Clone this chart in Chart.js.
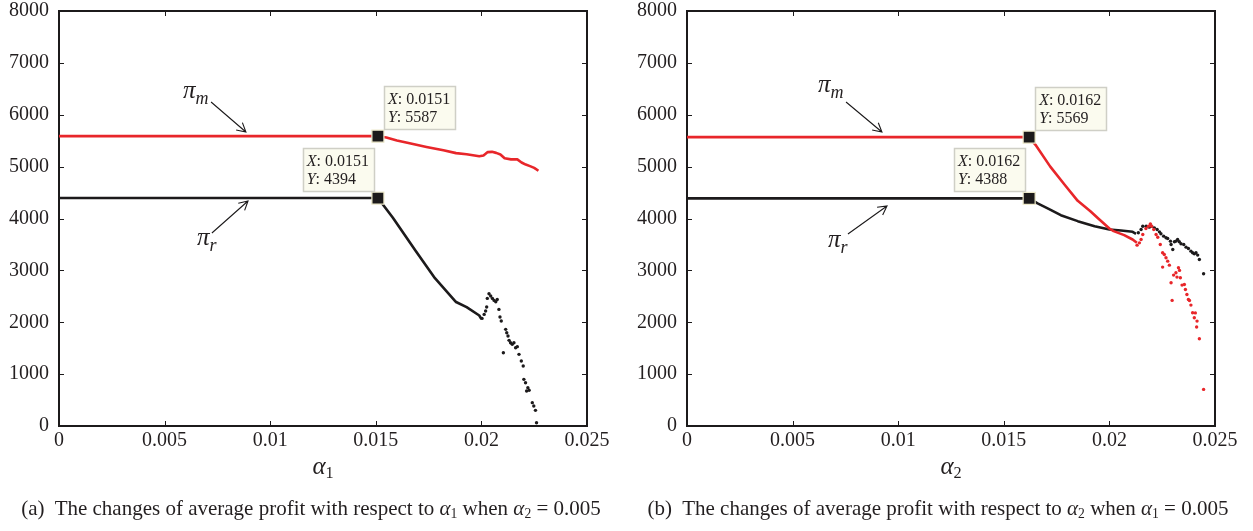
<!DOCTYPE html>
<html>
<head>
<meta charset="utf-8">
<script src="https://cdn.jsdelivr.net/npm/chart.js@4.4.1/dist/chart.umd.min.js"></script>
<style>
  body { margin: 0; background: #fff; width: 1253px; height: 531px; position: relative; overflow: hidden;
         font-family: "Liberation Serif", serif; color: #231f20; }
  .panel { position: absolute; top: 0; width: 625px; height: 531px; }
  #panelA { left: 0; }
  #panelB { left: 628px; }
  .axt { position: absolute; top: 452px; font-size: 25px; transform: translateX(-50%); white-space: nowrap; }
  .cap { position: absolute; top: 496px; font-size: 21px; transform: translateX(-50%); white-space: nowrap; }
  sub { font-size: 65%; font-style: normal; vertical-align: -0.25em; }
  i { font-style: italic; }
</style>
</head>
<body>
<div class="panel" id="panelA"><canvas id="chartA" width="625" height="531"></canvas></div>
<div class="panel" id="panelB"><canvas id="chartB" width="625" height="531"></canvas></div>
<div class="axt" style="left:323px"><i>α</i><sub>1</sub></div>
<div class="axt" style="left:951px"><i>α</i><sub>2</sub></div>
<div class="cap" style="left:311px">(a)&nbsp; The changes of average profit with respect to <i>α</i><sub>1</sub> when <i>α</i><sub>2</sub> = 0.005</div>
<div class="cap" style="left:938px">(b)&nbsp; The changes of average profit with respect to <i>α</i><sub>2</sub> when <i>α</i><sub>1</sub> = 0.005</div>
<script>
// axes
var xTicks = [0, 0.005, 0.01, 0.015, 0.02, 0.025];
var xTickLabels = ['0', '0.005', '0.01', '0.015', '0.02', '0.025'];
var yTicks = [0, 1000, 2000, 3000, 4000, 5000, 6000, 7000, 8000];

// (a) profit vs alpha1, alpha2 = 0.005
var aMarkX = [0.0151, 0.0151];
var aMarkY = [5587, 4394];
var aPiMX = [0, 0.0151, 0.0155, 0.0160, 0.0166, 0.0174, 0.0182, 0.0188, 0.0193, 0.0199, 0.0201, 0.0203, 0.0205, 0.0207, 0.0209, 0.0211, 0.0214, 0.0217, 0.0219, 0.0221, 0.0223, 0.0225, 0.0227];
var aPiMY = [5587, 5587, 5560, 5505, 5450, 5380, 5315, 5260, 5240, 5200, 5215, 5280, 5285, 5265, 5235, 5160, 5140, 5140, 5080, 5040, 5010, 4975, 4920];
var aPiRX = [0, 0.0151, 0.0158, 0.0169, 0.0178, 0.0188, 0.0193, 0.0199, 0.0200];
var aPiRY = [4394, 4394, 4020, 3370, 2850, 2390, 2290, 2130, 2060];
var aPiRDotX = [0.02003, 0.02013, 0.0202, 0.02025, 0.02028, 0.02036, 0.02044, 0.02052, 0.0206, 0.02068, 0.02075, 0.02083, 0.02088, 0.02094, 0.02104, 0.02115, 0.0212, 0.02126, 0.02131, 0.02138, 0.02146, 0.02154, 0.02162, 0.0217, 0.02178, 0.02189, 0.02198, 0.02201, 0.02209, 0.02214, 0.0222, 0.02226, 0.02241, 0.02248, 0.02256, 0.02261];
var aPiRDotY = [2074, 2151, 2216, 2293, 2460, 2550, 2505, 2460, 2421, 2396, 2440, 2248, 2100, 2023, 1413, 1863, 1798, 1734, 1651, 1606, 1574, 1606, 1509, 1530, 1381, 1252, 1156, 899, 835, 674, 739, 690, 450, 385, 302, 64];

// (b) profit vs alpha2, alpha1 = 0.005
var bMarkX = [0.0162, 0.0162];
var bMarkY = [5569, 4388];
var bPiMX = [0, 0.0162, 0.0165, 0.0172, 0.0179, 0.0185, 0.0191, 0.0195, 0.0200, 0.0202, 0.0207, 0.0211, 0.0213];
var bPiMY = [5569, 5569, 5420, 5000, 4640, 4340, 4141, 3990, 3807, 3756, 3679, 3595, 3531];
var bPiMDotX = [0.02131, 0.02142, 0.0215, 0.02158, 0.02173, 0.02185, 0.02194, 0.022, 0.0221, 0.02221, 0.02229, 0.02241, 0.02252, 0.0226, 0.02268, 0.02252, 0.02276, 0.02284, 0.02292, 0.02297, 0.02304, 0.02315, 0.0232, 0.02327, 0.02332, 0.02336, 0.02344, 0.02355, 0.0236, 0.02367, 0.02374, 0.02379, 0.02386, 0.02394, 0.02402, 0.02407, 0.02415, 0.02413, 0.02426, 0.02446];
var bPiMDotY = [3486, 3531, 3595, 3692, 3807, 3852, 3897, 3852, 3788, 3692, 3640, 3499, 3339, 3307, 3242, 3063, 3178, 3101, 2761, 2421, 2909, 2953, 2870, 3050, 3000, 2857, 2716, 2729, 2632, 2536, 2440, 2420, 2331, 2183, 2087, 2180, 2022, 1907, 1682, 706];
var bPiRX = [0, 0.0162, 0.0166, 0.0171, 0.0177, 0.0185, 0.0193, 0.0200, 0.02055, 0.0211, 0.02126];
var bPiRY = [4388, 4388, 4290, 4190, 4064, 3949, 3852, 3788, 3769, 3743, 3705];
var bPiRDotX = [0.02137, 0.0215, 0.02158, 0.02174, 0.02189, 0.022, 0.02213, 0.02226, 0.02237, 0.02244, 0.02257, 0.02268, 0.02276, 0.02289, 0.02292, 0.023, 0.02308, 0.02315, 0.02323, 0.02331, 0.02339, 0.02352, 0.02363, 0.02374, 0.02386, 0.02394, 0.02402, 0.0241, 0.02418, 0.02426, 0.02446];
var bPiRDotY = [3724, 3788, 3852, 3852, 3833, 3852, 3820, 3788, 3743, 3705, 3660, 3628, 3615, 3563, 3499, 3403, 3551, 3563, 3596, 3551, 3512, 3499, 3448, 3422, 3371, 3339, 3319, 3339, 3294, 3210, 2934];

var RED = '#e8262a';
var INK = '#1c1a1b';
var SERIF = '"Liberation Serif", serif';

function pts(xs, ys) {
  var out = [];
  for (var i = 0; i < xs.length; i++) out.push({ x: xs[i], y: ys[i] });
  return out;
}

// box with inward ticks on all four sides
var framePlugin = {
  id: 'frame',
  beforeDatasetsDraw: function (chart) {
    var c = chart.ctx, a = chart.chartArea, sx = chart.scales.x, sy = chart.scales.y;
    var t = 5;
    c.save();
    c.strokeStyle = INK;
    c.lineWidth = 1;
    c.beginPath();
    xTicks.forEach(function (v) {
      var p = Math.round(sx.getPixelForValue(v)) + 0.5;
      c.moveTo(p, a.bottom); c.lineTo(p, a.bottom - t);
      c.moveTo(p, a.top); c.lineTo(p, a.top + t);
    });
    yTicks.forEach(function (v) {
      var p = Math.round(sy.getPixelForValue(v)) + 0.5;
      c.moveTo(a.left, p); c.lineTo(a.left + t, p);
      c.moveTo(a.right, p); c.lineTo(a.right - t, p);
    });
    c.stroke();
    c.lineWidth = 2;
    c.strokeRect(Math.round(a.left), Math.round(a.top), Math.round(a.right - a.left), Math.round(a.bottom - a.top));
    c.restore();
  }
};

// data tips, arrows and curve names
var notesPlugin = {
  id: 'notes',
  afterDatasetsDraw: function (chart, args, opts) {
    var c = chart.ctx, sx = chart.scales.x, sy = chart.scales.y;
    c.save();
    (opts.tips || []).forEach(function (tp) {
      var px = sx.getPixelForValue(tp.x), py = sy.getPixelForValue(tp.y);
      var l1 = ': ' + tp.x, l2 = ': ' + tp.y;
      c.font = 'italic 16px ' + SERIF;
      var wX = c.measureText('X').width, wY = c.measureText('Y').width;
      c.font = '16px ' + SERIF;
      var w = Math.max(wX + c.measureText(l1).width, wY + c.measureText(l2).width) + 9;
      var h = 43;
      var left = tp.side === 'right' ? px + 6 : px - 4 - w;
      var top = py - 7 - h;
      c.fillStyle = '#fbfbef';
      c.fillRect(left, top, w, h);
      c.strokeStyle = '#cfcfc6';
      c.lineWidth = 1.5;
      c.strokeRect(Math.round(left) + 0.5, Math.round(top) + 0.5, Math.round(w), h);
      c.fillStyle = '#231f20';
      c.textBaseline = 'alphabetic';
      c.font = 'italic 16px ' + SERIF;
      c.fillText('X', left + 4, top + 18);
      c.fillText('Y', left + 4, top + 36);
      c.font = '16px ' + SERIF;
      c.fillText(l1, left + 4 + wX, top + 18);
      c.fillText(l2, left + 4 + wY, top + 36);
    });
    (opts.arrows || []).forEach(function (ar) {
      var x0 = sx.getPixelForValue(ar.from[0]), y0 = sy.getPixelForValue(ar.from[1]);
      var x1 = sx.getPixelForValue(ar.to[0]), y1 = sy.getPixelForValue(ar.to[1]);
      var ang = Math.atan2(y1 - y0, x1 - x0), hl = 10, hw = 0.5;
      c.strokeStyle = INK;
      c.lineWidth = 1.1;
      c.beginPath();
      c.moveTo(x0, y0); c.lineTo(x1, y1);
      c.moveTo(x1 - hl * Math.cos(ang - hw), y1 - hl * Math.sin(ang - hw));
      c.lineTo(x1, y1);
      c.lineTo(x1 - hl * Math.cos(ang + hw), y1 - hl * Math.sin(ang + hw));
      c.stroke();
    });
    (opts.names || []).forEach(function (nm) {
      var px = sx.getPixelForValue(nm.x), py = sy.getPixelForValue(nm.y);
      c.fillStyle = '#231f20';
      c.textBaseline = 'alphabetic';
      c.font = 'italic 25px ' + SERIF;
      c.fillText('π', px, py);
      var w = c.measureText('π').width;
      c.font = 'italic 18px ' + SERIF;
      c.fillText(nm.sub, px + w, py + 6);
    });
    c.restore();
  }
};

function makeChart(id, sets, notes) {
  return new Chart(document.getElementById(id), {
    type: 'scatter',
    data: { datasets: sets },
    plugins: [framePlugin, notesPlugin],
    options: {
      responsive: false,
      animation: false,
      events: [],
      layout: { padding: { left: 0, right: 38, top: 11, bottom: 0 } },
      plugins: { legend: { display: false }, tooltip: { enabled: false }, notes: notes },
      scales: {
        x: {
          type: 'linear', min: 0, max: 0.025,
          afterBuildTicks: function (s) { s.ticks = xTicks.map(function (v) { return { value: v }; }); },
          afterFit: function (s) { s.height = 105; },
          grid: { display: false, drawTicks: false },
          border: { display: false },
          ticks: {
            autoSkip: false, maxRotation: 0, padding: 5, color: '#231f20',
            font: { family: SERIF, size: 20, lineHeight: 1 },
            callback: function (v, i) { return xTickLabels[i]; }
          }
        },
        y: {
          type: 'linear', min: 0, max: 8000,
          afterBuildTicks: function (s) { s.ticks = yTicks.map(function (v) { return { value: v }; }); },
          // keep the label padding from pushing the plot box down
          afterFit: function (s) { s.width = 59; s.paddingTop = 0; s.paddingBottom = 0; },
          grid: { display: false, drawTicks: false },
          border: { display: false },
          ticks: {
            padding: 10, color: '#231f20',
            font: { family: SERIF, size: 20, lineHeight: 1 },
            callback: function (v) { return String(v); }
          }
        }
      }
    }
  });
}

function markSet(xs, ys) {
  return { data: pts(xs, ys), pointStyle: 'rect', pointRadius: 8.5, backgroundColor: INK, borderColor: '#eeeacb', borderWidth: 1.2 };
}
function lineSet(xs, ys, col) {
  return { data: pts(xs, ys), showLine: true, borderColor: col, borderWidth: 2.6, pointRadius: 0, tension: 0, borderJoinStyle: 'round' };
}
function dotSet(xs, ys, col) {
  return { data: pts(xs, ys), pointRadius: 1.7, backgroundColor: col, borderWidth: 0 };
}

makeChart('chartA', [
  markSet(aMarkX, aMarkY),
  lineSet(aPiMX, aPiMY, RED),
  lineSet(aPiRX, aPiRY, INK),
  dotSet(aPiRDotX, aPiRDotY, INK)
], {
  tips: [{ x: aMarkX[0], y: aMarkY[0], side: 'right' }, { x: aMarkX[1], y: aMarkY[1], side: 'left' }],
  arrows: [{ from: [0.0072, 6246], to: [0.00885, 5667] }, { from: [0.00724, 3721], to: [0.00895, 4337] }],
  names: [{ x: 0.00587, y: 6323, sub: 'm' }, { x: 0.00653, y: 3489, sub: 'r' }]
});

makeChart('chartB', [
  markSet(bMarkX, bMarkY),
  lineSet(bPiMX, bPiMY, RED),
  dotSet(bPiMDotX, bPiMDotY, RED),
  lineSet(bPiRX, bPiRY, INK),
  dotSet(bPiRDotX, bPiRDotY, INK)
], {
  tips: [{ x: bMarkX[0], y: bMarkY[0], side: 'right' }, { x: bMarkX[1], y: bMarkY[1], side: 'left' }],
  arrows: [{ from: [0.00753, 6246], to: [0.00923, 5667] }, { from: [0.00762, 3701], to: [0.00947, 4241] }],
  names: [{ x: 0.0062, y: 6439, sub: 'm' }, { x: 0.00668, y: 3451, sub: 'r' }]
});
</script>
</body>
</html>
